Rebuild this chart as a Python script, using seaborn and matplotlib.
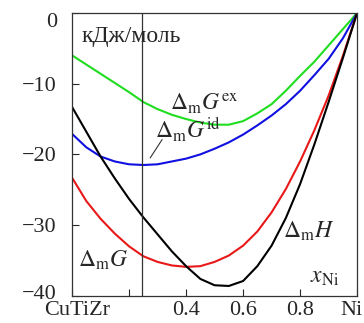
import matplotlib
matplotlib.use('Agg')
import matplotlib.pyplot as plt
import matplotlib.transforms as mtransforms
import seaborn as sns
import pandas as pd

# mole fraction of Ni
x_ni = [0, 0.05, 0.1, 0.15, 0.2, 0.25, 0.3, 0.35, 0.4, 0.45, 0.5,
        0.55, 0.6, 0.65, 0.7, 0.75, 0.8, 0.85, 0.9, 0.95, 1.0]

# kJ/mol
g_ex = [-6.0, -7.3, -8.6, -9.9, -11.2, -12.6, -13.6, -14.4, -15.0, -15.5, -15.8,
        -15.8, -15.3, -14.2, -12.9, -11.0, -8.9, -6.9, -4.6, -2.3, 0.0]
g_id = [-17.1, -19.0, -20.3, -21.0, -21.4, -21.5, -21.4, -21.0, -20.6, -20.0, -19.2,
        -18.3, -17.2, -15.9, -14.5, -12.9, -11.0, -8.8, -6.5, -3.6, 0.0]
g_mix = [-23.3, -26.6, -29.1, -31.2, -33.0, -34.4, -35.2, -35.7, -35.9, -35.8, -35.2,
         -34.3, -32.9, -30.9, -28.2, -24.9, -21.0, -16.6, -11.7, -6.1, 0.0]
h_mix = [-13.3, -16.8, -20.3, -23.4, -26.3, -28.9, -31.3, -33.7, -35.8, -37.6, -38.5,
         -38.6, -37.9, -35.8, -32.9, -29.0, -24.2, -18.6, -12.6, -6.4, 0.0]

x_ticks = [0, 0.2, 0.4, 0.6, 0.8, 1.0]
x_labels = ['CuTiZr', '', '0.4', '0.6', '0.8', 'Ni']
y_ticks = [0, -10, -20, -30, -40]
y_labels = ['0', '\u221210', '\u221220', '\u221230', '\u221240']

x_line = 0.247

sns.set_style('ticks')
plt.rcParams['font.family'] = ['Liberation Serif', 'DejaVu Serif']
plt.rcParams['mathtext.fontset'] = 'stix'

df = pd.concat([
    pd.DataFrame({'x': x_ni, 'y': g_ex, 'curve': 'gex'}),
    pd.DataFrame({'x': x_ni, 'y': g_id, 'curve': 'gid'}),
    pd.DataFrame({'x': x_ni, 'y': g_mix, 'curve': 'g'}),
    pd.DataFrame({'x': x_ni, 'y': h_mix, 'curve': 'h'}),
])
palette = {'gex': '#1fdd1f', 'gid': '#1010e0', 'g': '#e81818', 'h': '#000000'}

fig = plt.figure(figsize=(3.64, 3.23), dpi=100)
ax = fig.add_axes([0.198, 0.084, 0.783, 0.876])

sns.lineplot(data=df, x='x', y='y', hue='curve', palette=palette,
             linewidth=1.5, legend=False, sort=False, ax=ax)
ax.axvline(x_line, color='#333333', linewidth=0.9)

ax.set_xlim(0, 1)
ax.set_ylim(-40, 0)
ax.set_xticks(x_ticks)
ax.set_xticklabels(x_labels)
ax.set_yticks(y_ticks)
ax.set_yticklabels(y_labels)
ax.set_xlabel('')
ax.set_ylabel('')
ax.tick_params(direction='in', length=5, width=0.8, labelsize=16)
ax.tick_params(axis='x', pad=4)
ax.tick_params(axis='y', pad=11)
for s in ax.spines.values():
    s.set_linewidth(0.9)
    s.set_color('#333333')

# nudge edge labels like in the source figure
def nudge(lbl, dx, dy):
    lbl.set_transform(lbl.get_transform() +
                      mtransforms.ScaledTranslation(dx / 100, dy / 100, fig.dpi_scale_trans))

xl = ax.get_xticklabels()
yl = ax.get_yticklabels()
nudge(xl[0], 5, 0)
nudge(xl[-1], -6, 0)
nudge(yl[0], 0, -7)
nudge(yl[-1], 0, 4)

fs = 17
ax.text(0.035, -4.1, '\u043a\u0414\u0436/\u043c\u043e\u043b\u044c', fontsize=17, va='baseline')
ax.text(0.344, -13.8, r'$\Delta_{\rm m}G^{\rm ex}$', fontsize=fs, va='baseline')
ax.text(0.291, -17.7, r'$\Delta_{\rm m}G^{\rm id}$', fontsize=fs, va='baseline')
ax.plot([0.274, 0.316], [-20.5, -17.9], color='#333333', linewidth=0.8)
ax.text(0.021, -35.9, r'$\Delta_{\rm m}G$', fontsize=fs, va='baseline')
ax.text(0.74, -31.8, r'$\Delta_{\rm m}H$', fontsize=fs, va='baseline')
ax.text(0.835, -38.1, r'$x_{\rm Ni}$', fontsize=fs, va='baseline')

fig.savefig('out.png', dpi=100)
